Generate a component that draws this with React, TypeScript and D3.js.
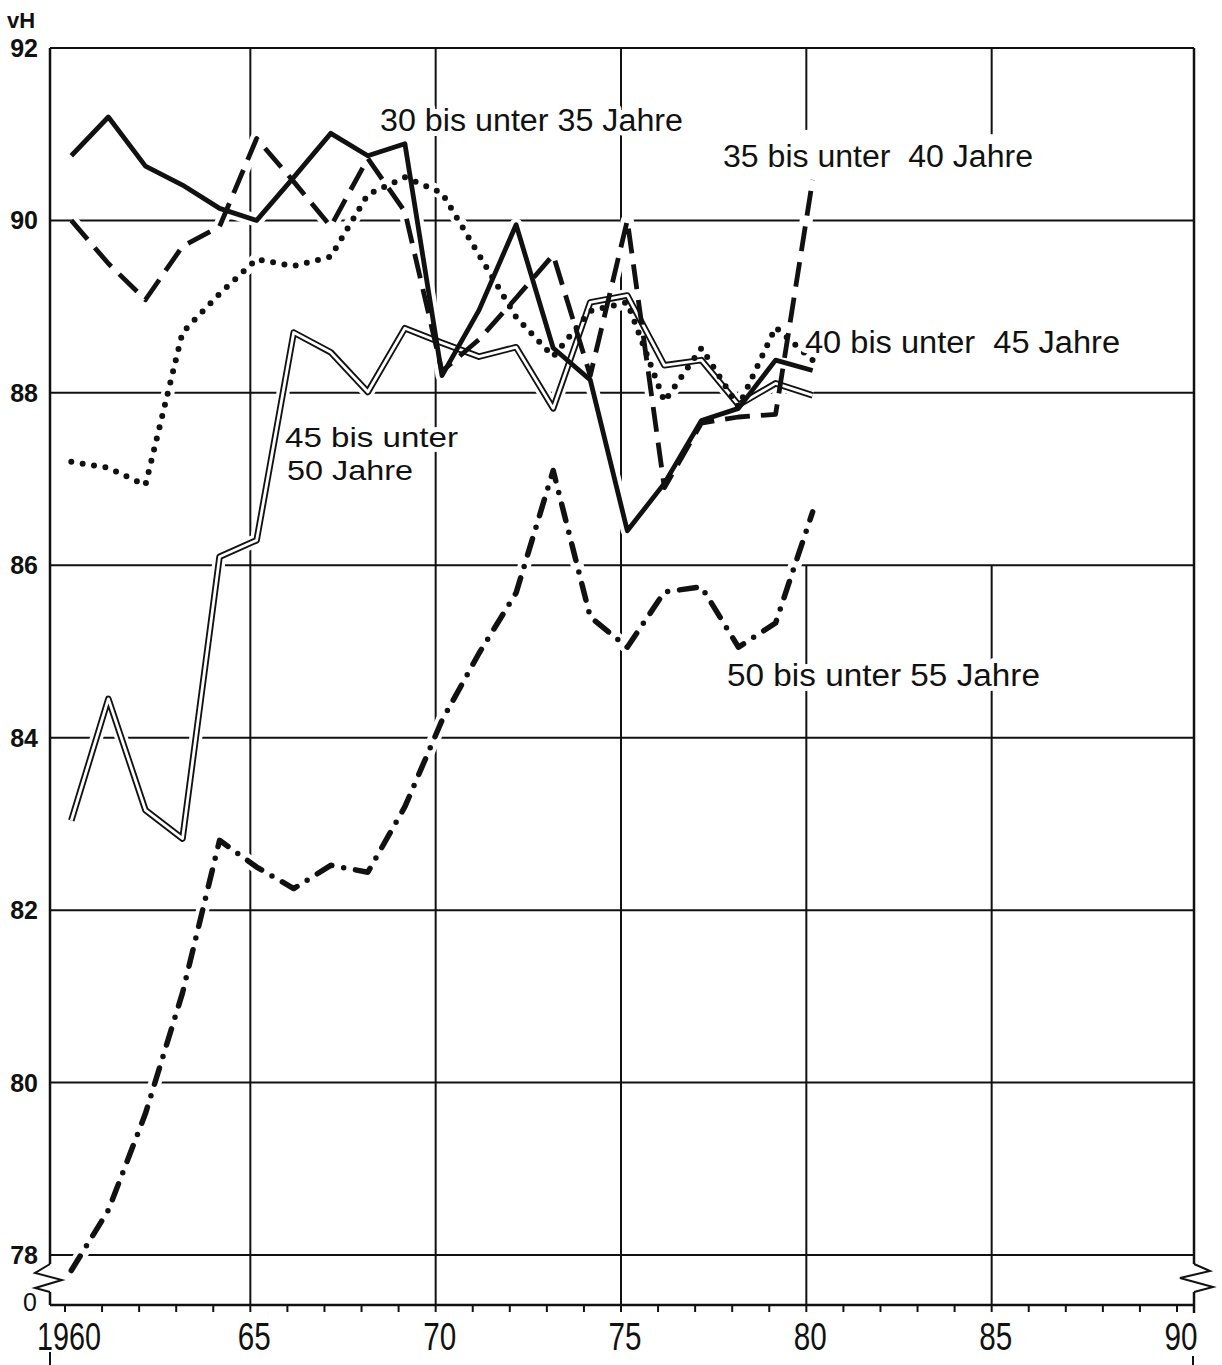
import React, { useEffect, useRef } from 'react';
import * as d3 from 'd3';

// Jahre (x) und Anteile in vH je Altersgruppe
const years = [1960, 1961, 1962, 1963, 1964, 1965, 1966, 1967, 1968, 1969, 1970, 1971, 1972, 1973, 1974, 1975, 1976, 1977, 1978, 1979, 1980];

const age30to35 = [90.75, 91.2, 90.63, 90.41, 90.14, 90.0, 90.5, 91.01, 90.75, 90.89, 88.2, 88.96, 89.95, 88.52, 88.15, 86.4, 86.95, 87.68, 87.82, 88.38, 88.26];
const age35to40 = [90.0, 89.5, 89.08, 89.7, 89.93, 90.95, 90.45, 89.93, 90.72, 90.1, 88.25, 88.62, 89.1, 89.6, 88.2, 90.0, 86.9, 87.65, 87.72, 87.75, 90.47];
const age40to45 = [87.2, 87.13, 86.93, 88.7, 89.15, 89.55, 89.47, 89.58, 90.3, 90.5, 90.32, 89.6, 88.88, 88.42, 88.95, 89.05, 87.9, 88.52, 87.84, 88.76, 88.38];
const age45to50 = [83.04, 84.45, 83.16, 82.83, 86.1, 86.29, 88.7, 88.47, 88.01, 88.75, 88.58, 88.42, 88.53, 87.82, 89.05, 89.13, 88.32, 88.38, 87.86, 88.11, 87.97];
const age50to55 = [77.82, 78.52, 79.64, 81.04, 82.81, 82.5, 82.25, 82.52, 82.44, 83.2, 84.2, 84.98, 85.68, 87.1, 85.4, 85.05, 85.69, 85.75, 85.05, 85.33, 86.62];

// Achsen
const xTickYears = [1960, 1965, 1970, 1975, 1980, 1985, 1990];
const xTickLabels = ['1960', '65', '70', '75', '80', '85', '90'];
const yTicks = [92, 90, 88, 86, 84, 82, 80, 78];

const FONT = '"Liberation Sans", Arial, Helvetica, sans-serif';

export default function App() {
    const chartRef = useRef<HTMLDivElement>(null);

    useEffect(() => {
        if (!chartRef.current) return;
        chartRef.current.innerHTML = '';

        const width = 1222;
        const height = 1365;
        const frameLeft = 50;
        const frameRight = 1194;
        const axisY = 1305; // Nulllinie unter dem Achsenbruch

        const x = d3.scaleLinear().domain([1960, 1990]).range([65, 1177]);
        const y = d3.scaleLinear().domain([78, 92]).range([1255, 48]);
        // Werte sind jeweils leicht nach rechts in das Jahr versetzt eingetragen
        const px = (yr: number) => x(yr + 0.17);

        const svg = d3
            .create('svg')
            .attr('width', width)
            .attr('height', height)
            .attr('viewBox', [0, 0, width, height])
            .attr('style', `display:block; background:white; font-family:${FONT};`);

        const ink = '#111';

        // Gitter: horizontale Linien
        const grid = svg.append('g').attr('stroke', ink).attr('stroke-width', 2);
        grid.selectAll('line.h')
            .data(yTicks)
            .join('line')
            .attr('class', 'h')
            .attr('x1', frameLeft)
            .attr('x2', frameRight)
            .attr('y1', (d) => y(d))
            .attr('y2', (d) => y(d));

        // Gitter: senkrechte Linien (80 und 85 oben unterbrochen)
        const vSegments: [number, number, number][] = [
            [1965, 92, 78],
            [1970, 92, 78],
            [1975, 92, 78],
            [1980, 92, 91.05],
            [1980, 86, 78],
            [1985, 92, 91.0],
            [1985, 86, 78]
        ];
        grid.selectAll('line.v')
            .data(vSegments)
            .join('line')
            .attr('class', 'v')
            .attr('x1', (d) => x(d[0]))
            .attr('x2', (d) => x(d[0]))
            .attr('y1', (d) => y(d[1]))
            .attr('y2', (d) => (d[2] === 78 ? axisY : y(d[2])));

        // Rahmen
        const frame = svg.append('g').attr('stroke', ink).attr('stroke-width', 2.5).attr('fill', 'none');
        frame.append('line').attr('x1', frameLeft).attr('x2', frameLeft).attr('y1', y(92)).attr('y2', 1264);
        frame.append('line').attr('x1', frameLeft).attr('x2', frameLeft).attr('y1', 1292).attr('y2', axisY);
        frame.append('line').attr('x1', frameRight).attr('x2', frameRight).attr('y1', y(92)).attr('y2', 1264);
        frame.append('line').attr('x1', frameRight).attr('x2', frameRight).attr('y1', 1292).attr('y2', axisY + 8);
        frame.append('line').attr('x1', frameLeft).attr('x2', frameRight).attr('y1', axisY).attr('y2', axisY);
        // Achsenbruch links und rechts
        frame.append('path').attr('stroke-width', 2).attr('d', `M${frameLeft},1264 L35,1273 L62,1280 L35,1288 L${frameLeft},1292`);
        frame.append('path').attr('stroke-width', 2).attr('d', `M${frameRight},1264 L1210,1271 L1180,1278 L1213,1287 L${frameRight},1292`);
        // kleine Randmarken unten
        frame.append('line').attr('stroke-width', 2).attr('x1', frameLeft).attr('x2', frameLeft).attr('y1', 1352).attr('y2', 1365);
        frame.append('line').attr('stroke-width', 2).attr('x1', frameRight - 1).attr('x2', frameRight - 1).attr('y1', 1356).attr('y2', 1365);

        // Jahresstriche an der x-Achse
        svg.append('g')
            .attr('stroke', ink)
            .attr('stroke-width', 2)
            .selectAll('line')
            .data(d3.range(1960, 1991))
            .join('line')
            .attr('x1', (d) => x(d))
            .attr('x2', (d) => x(d))
            .attr('y1', axisY)
            .attr('y2', axisY + 7);

        // x-Beschriftung
        svg.append('g')
            .attr('fill', ink)
            .attr('font-size', 38)
            .attr('text-anchor', 'middle')
            .selectAll('text')
            .data(xTickYears)
            .join('text')
            .attr('x', (d) => x(d) + 4)
            .attr('y', 1350)
            .attr('textLength', (d, i) => (xTickLabels[i].length === 4 ? 64 : 33))
            .attr('lengthAdjust', 'spacingAndGlyphs')
            .text((d, i) => xTickLabels[i]);

        // y-Beschriftung
        svg.append('g')
            .attr('fill', ink)
            .attr('font-size', 25)
            .attr('font-weight', 'bold')
            .attr('text-anchor', 'end')
            .selectAll('text')
            .data(yTicks)
            .join('text')
            .attr('x', 38)
            .attr('y', (d) => y(d) + 9)
            .text((d) => d);
        svg.append('text')
            .attr('x', 37)
            .attr('y', 1311)
            .attr('text-anchor', 'end')
            .attr('font-size', 25)
            .attr('fill', ink)
            .text('0');
        svg.append('text')
            .attr('x', 7)
            .attr('y', 28)
            .attr('font-size', 22)
            .attr('font-weight', 'bold')
            .attr('fill', ink)
            .text('vH');

        const line = d3
            .line<number>()
            .x((d, i) => px(years[i]))
            .y((d) => y(d));

        const series = [age30to35, age35to40, age40to45, age45to50, age50to55];

        // weißer Hof hinter den Kurven
        svg.append('g')
            .attr('fill', 'none')
            .attr('stroke', 'white')
            .attr('stroke-width', 13)
            .attr('stroke-linejoin', 'round')
            .selectAll('path')
            .data(series)
            .join('path')
            .attr('d', (d) => line(d));

        const curves = svg.append('g').attr('fill', 'none').attr('stroke', ink).attr('stroke-linejoin', 'round');

        // 45 bis unter 50: Doppellinie
        curves.append('path').attr('d', line(age45to50)).attr('stroke-width', 6.5);
        curves.append('path').attr('d', line(age45to50)).attr('stroke', 'white').attr('stroke-width', 2.8);

        // 50 bis unter 55: Strich-Punkt
        curves.append('path')
            .attr('d', line(age50to55))
            .attr('stroke-width', 5.5)
            .attr('stroke-linecap', 'round')
            .attr('stroke-dasharray', '17 12 0 12');

        // 40 bis unter 45: punktiert
        curves.append('path')
            .attr('d', line(age40to45))
            .attr('stroke-width', 6)
            .attr('stroke-linecap', 'round')
            .attr('stroke-dasharray', '0 11.5');

        // 35 bis unter 40: gestrichelt
        curves.append('path')
            .attr('d', line(age35to40))
            .attr('stroke-width', 4.8)
            .attr('stroke-dasharray', '25 11');

        // 30 bis unter 35: durchgezogen
        curves.append('path')
            .attr('d', line(age30to35))
            .attr('stroke-width', 4.8);

        // Linienbeschriftungen, weißer Hof unterbricht Gitter
        const labels = [
            { lines: ['30 bis unter 35 Jahre'], x: 380, y: 131, w: [303], size: 31 },
            { lines: ['35 bis unter  40 Jahre'], x: 723, y: 167, w: [310], size: 31 },
            { lines: ['40 bis unter  45 Jahre'], x: 805, y: 353, w: [315], size: 31 },
            { lines: ['45 bis unter', '50 Jahre'], x: 285, y: 447, w: [173, 126], size: 28 },
            { lines: ['50 bis unter 55 Jahre'], x: 727, y: 686, w: [313], size: 31 }
        ];
        svg.append('g')
            .attr('fill', ink)
            .attr('stroke', 'white')
            .attr('stroke-width', 10)
            .attr('stroke-linejoin', 'round')
            .attr('paint-order', 'stroke')
            .selectAll('text')
            .data(labels)
            .join('text')
            .attr('font-size', (d) => d.size)
            .attr('xml:space', 'preserve')
            .style('white-space', 'pre')
            .each(function (d) {
                const t = d3.select(this);
                d.lines.forEach((s, i) => {
                    t.append('tspan')
                        .attr('x', i === 0 ? d.x : d.x + 2)
                        .attr('y', d.y + i * 33)
                        .attr('textLength', d.w[i])
                        .attr('lengthAdjust', 'spacingAndGlyphs')
                        .text(s);
                });
            });

        chartRef.current.appendChild(svg.node()!);
    }, []);

    return <div ref={chartRef} style={{ position: 'absolute', left: 0, top: 0, width: 1222, height: 1365, background: 'white' }} />;
}
